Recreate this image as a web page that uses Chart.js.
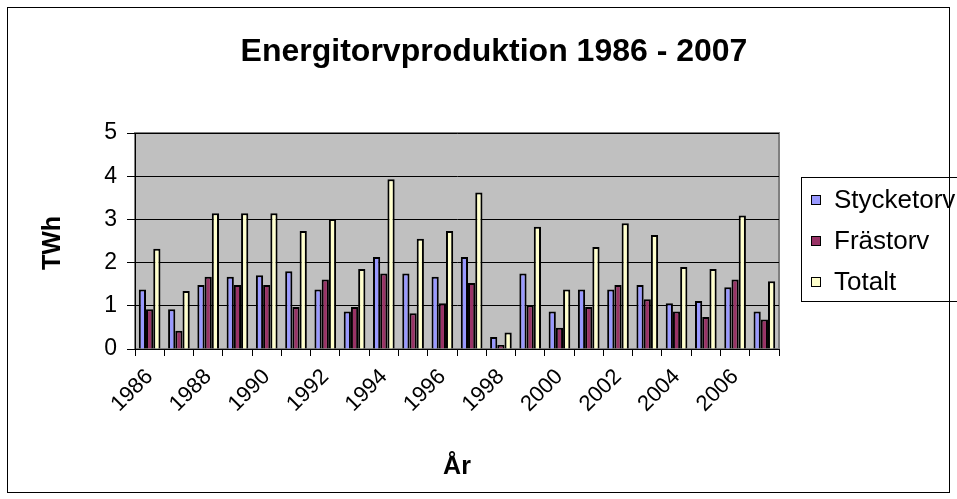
<!DOCTYPE html>
<html lang="sv">
<head>
  <meta charset="UTF-8">
  <title>Energitorvproduktion 1986 - 2007</title>
  <script src="https://cdn.jsdelivr.net/npm/chart.js"></script>
  <style>
    html, body { margin: 0; padding: 0; background: #fff; }
    #wrap { width: 957px; height: 499px; }
  </style>
</head>
<body>
  <div id="wrap"><canvas id="chart" width="957" height="499"></canvas></div>

  <script>
    // Data (TWh per year)
    const years = ['1986', '1987', '1988', '1989', '1990', '1991', '1992', '1993', '1994', '1995', '1996',
                   '1997', '1998', '1999', '2000', '2001', '2002', '2003', '2004', '2005', '2006', '2007'];
    const stycketorv = [1.38, 0.92, 1.48, 1.67, 1.71, 1.80, 1.38, 0.87, 2.13, 1.75, 1.67,
                        2.13, 0.28, 1.75, 0.87, 1.38, 1.38, 1.48, 1.06, 1.11, 1.43, 0.87];
    const frastorv = [0.92, 0.42, 1.67, 1.48, 1.48, 0.97, 1.61, 0.97, 1.75, 0.83, 1.06,
                      1.53, 0.09, 1.01, 0.49, 0.97, 1.48, 1.15, 0.87, 0.74, 1.61, 0.68];
    const totalt = [2.32, 1.34, 3.14, 3.14, 3.14, 2.73, 3.01, 1.85, 3.93, 2.55, 2.73,
                    3.62, 0.38, 2.83, 1.38, 2.36, 2.91, 2.64, 1.90, 1.85, 3.09, 1.57];
    const yTicks = [0, 1, 2, 3, 4, 5];

    const FONT = 'Arial, "Liberation Sans", sans-serif';

    // Excel-like frame, plot background, titles and legend
    const excelLook = {
      id: 'excelLook',
      beforeDraw(chart) {
        const ctx = chart.ctx;
        const a = chart.chartArea;
        ctx.save();
        ctx.fillStyle = '#fff';
        ctx.fillRect(0, 0, chart.width, chart.height);
        ctx.strokeStyle = '#000';
        ctx.lineWidth = 1;
        ctx.strokeRect(7.5, 7.5, 942, 485);
        ctx.fillStyle = '#C0C0C0';
        ctx.fillRect(a.left, a.top, a.right - a.left, a.bottom - a.top);
        ctx.strokeStyle = '#808080';
        ctx.lineWidth = 2;
        ctx.strokeRect(a.left, a.top, a.right - a.left, a.bottom - a.top);
        ctx.restore();
      },
      afterDraw(chart) {
        const ctx = chart.ctx;
        ctx.save();
        ctx.fillStyle = '#000';
        // chart title
        ctx.font = 'bold 32px ' + FONT;
        ctx.textAlign = 'center';
        ctx.textBaseline = 'alphabetic';
        ctx.fillText('Energitorvproduktion 1986 - 2007', 494, 61);
        // axis titles
        ctx.font = 'bold 25px ' + FONT;
        ctx.textBaseline = 'middle';
        ctx.fillText('År', 457, 467);
        ctx.save();
        ctx.translate(53, 243);
        ctx.rotate(-Math.PI / 2);
        ctx.fillText('TWh', 0, 0);
        ctx.restore();
        // legend
        ctx.strokeStyle = '#000';
        ctx.lineWidth = 1;
        ctx.strokeRect(801.5, 177.5, 170, 124);
        ctx.font = '26px ' + FONT;
        ctx.textAlign = 'left';
        chart.data.datasets.forEach((ds, i) => {
          const cy = 200 + i * 41;
          ctx.fillStyle = ds.backgroundColor;
          ctx.fillRect(811.5, cy - 4.5, 9, 9);
          ctx.strokeRect(811.5, cy - 4.5, 9, 9);
          ctx.fillStyle = '#000';
          ctx.fillText(ds.label, 834, cy + 1);
        });
        ctx.restore();
      }
    };

    new Chart(document.getElementById('chart'), {
      type: 'bar',
      data: {
        labels: years,
        datasets: [
          { label: 'Stycketorv', data: stycketorv, backgroundColor: '#9999FF' },
          { label: 'Frästorv', data: frastorv, backgroundColor: '#993366' },
          { label: 'Totalt', data: totalt, backgroundColor: '#FFFFCC' }
        ]
      },
      options: {
        responsive: false,
        animation: false,
        layout: { padding: { top: 133, left: 0, right: 178, bottom: 0 } },
        datasets: {
          bar: {
            borderColor: '#000',
            borderWidth: 2,
            categoryPercentage: 0.74,
            barPercentage: 1
          }
        },
        plugins: {
          legend: { display: false },
          title: { display: false },
          tooltip: { enabled: false }
        },
        scales: {
          x: {
            afterFit(scale) { scale.height = 150; },
            grid: {
              display: true,
              drawOnChartArea: false,
              color: '#000',
              tickLength: 7,
              offset: true
            },
            border: { color: '#000', width: 1 },
            ticks: {
              color: '#000',
              font: { family: FONT, size: 22 },
              maxRotation: 45,
              minRotation: 45,
              autoSkip: false,
              padding: 8,
              callback(value, index) { return index % 2 === 0 ? years[index] : ''; }
            }
          },
          y: {
            min: 0,
            max: 5,
            afterFit(scale) { scale.width = 135; },
            afterBuildTicks(scale) { scale.ticks = yTicks.map(v => ({ value: v })); },
            grid: {
              color: '#000',
              lineWidth: 1,
              tickLength: 8
            },
            border: { color: '#000', width: 1 },
            ticks: {
              color: '#000',
              font: { family: FONT, size: 23 },
              padding: 10
            }
          }
        }
      },
      plugins: [excelLook]
    });
  </script>
</body>
</html>
